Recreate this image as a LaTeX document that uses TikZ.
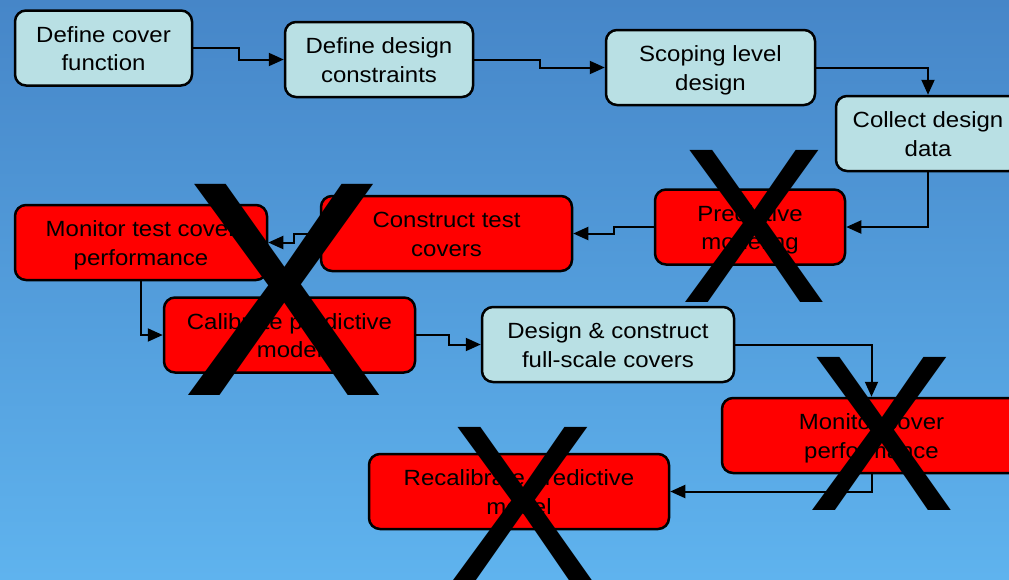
\documentclass[tikz,border=0pt]{standalone}
\usepackage{fontspec}
\usepackage{graphicx}
\setmainfont{Liberation Sans}[FakeStretch=1.09]
\newfontfamily\crossfont{Liberation Sans}
\usetikzlibrary{arrows.meta,calc}

\definecolor{bgtop}{RGB}{70,134,200}
\definecolor{bgbottom}{RGB}{95,179,238}
\definecolor{stepfill}{RGB}{185,224,228}
\definecolor{dropfill}{RGB}{255,0,0}

\tikzset{
  % fixed text box (top of first line to last baseline), so all labels centre alike
  stage/.style={draw=black, line width=2.5pt, rounded corners=11pt, fill=stepfill,
    align=center, font=\fontsize{22}{28.4}\selectfont, inner sep=0pt,
    minimum height=75pt, text height=45.4pt, text depth=0pt},
  dropped/.style={stage, fill=dropfill},
  link/.style={line width=2pt, -{Triangle[length=15pt,width=13pt]}},
  cross/.style={inner sep=0pt, font=\crossfont}
}

\begin{document}
\begin{tikzpicture}[x=1pt, y=-1pt]
  \useasboundingbox (0,0) rectangle (1009,579);
  \clip (0,0) rectangle (1009,579);
  \shade[top color=bgtop, bottom color=bgbottom] (0,0) rectangle (1009,579);

  % process steps
  \node[stage,   minimum width=177pt] (dcf) at (103.5,48)  {Define cover\\function};
  \node[stage,   minimum width=188pt] (ddc) at (379,59.5)  {Define design\\constraints};
  \node[stage,   minimum width=209pt] (sld) at (710.5,67.5) {Scoping level\\design};
  \node[stage,   minimum width=184pt] (cdd) at (928,133.5) {Collect design\\data};
  \node[dropped, minimum width=190pt] (pm)  at (750,227)   {Predictive\\modeling};
  \node[dropped, minimum width=251pt] (ctc) at (446.5,233.5) {Construct test\\covers};
  \node[dropped, minimum width=252pt] (mtc) at (141,242.5) {Monitor test cover\\performance};
  \node[dropped, minimum width=251pt] (cpm) at (289.5,335) {Calibrate predictive\\model};
  \node[stage,   minimum width=252pt] (dfc) at (608,344.5) {Design \& construct\\full-scale covers};
  \node[dropped, minimum width=299pt] (mcp) at (871.5,435.5) {Monitor cover\\performance};
  \node[dropped, minimum width=300pt] (rpm) at (519,491.5) {Recalibrate predictive\\model};

  % connectors
  \draw[link] (dcf.east) -| ($(dcf.east)!.5!(ddc.west)$) |- (ddc.west);
  \draw[link] (ddc.east) -| ($(ddc.east)!.5!(sld.west)$) |- (sld.west);
  \draw[link] (sld.east) -| (cdd.north);
  \draw[link] (cdd.south) |- (pm.east);
  \draw[link] (pm.west) -| ($(pm.west)!.5!(ctc.east)$) |- (ctc.east);
  \draw[link] (ctc.west) -| ($(ctc.west)!.5!(mtc.east)$) |- (mtc.east);
  \draw[link] (mtc.south) |- (cpm.west);
  \draw[link] (cpm.east) -| ($(cpm.east)!.5!(dfc.west)$) |- (dfc.west);
  \draw[link] (dfc.east) -| (mcp.north);
  \draw[link] (mcp.south) |- (rpm.east);

  % crossed-out steps
  \node[cross] (x1) at (284,289.5) {\resizebox{!}{211pt}{X}};
  \node[cross] (x2) at (754,226)   {\resizebox{!}{152pt}{X}};
  \node[cross] (x3) at (881.5,433.5) {\resizebox{!}{153pt}{X}};
  \node[cross] (x4) at (522.5,504) {\resizebox{!}{153pt}{X}};
\end{tikzpicture}
\end{document}
